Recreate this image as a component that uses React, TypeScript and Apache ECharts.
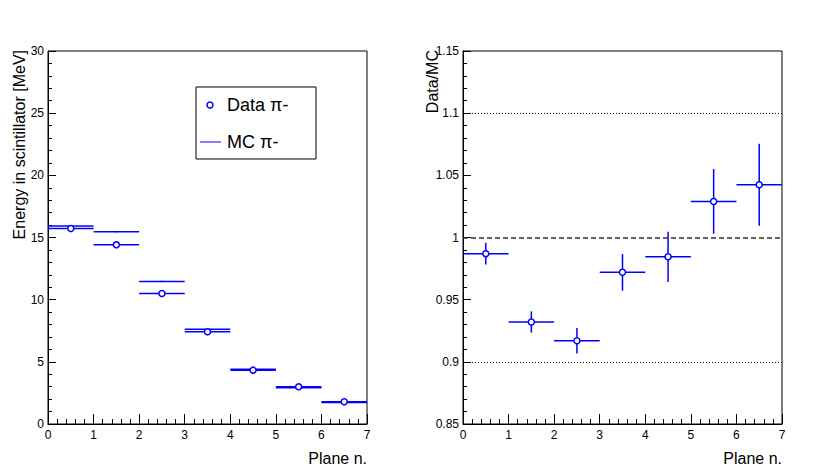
import React, { useEffect, useRef } from "react";
import * as echarts from "echarts";

const planeCenters = [0.5, 1.5, 2.5, 3.5, 4.5, 5.5, 6.5];
const binHalfWidth = [0.5, 0.5, 0.5, 0.5, 0.5, 0.5, 0.5];
const dataEnergy = [15.72, 14.41, 10.5, 7.42, 4.33, 2.99, 1.79];
const dataEnergyErr = [0.08, 0.08, 0.07, 0.06, 0.05, 0.04, 0.03];
const mcEnergy = [15.93, 15.47, 11.47, 7.63, 4.4, 2.91, 1.72];
const mcEnergyErr = [0.06, 0.06, 0.05, 0.04, 0.03, 0.02, 0.02];
const ratio = [0.987, 0.932, 0.917, 0.972, 0.9845, 1.029, 1.0424];
const ratioErr = [0.0087, 0.0086, 0.0103, 0.0148, 0.0202, 0.026, 0.033];
const refLines = [1.1, 1.0, 0.9];

const BLUE = "#0000ff";
const FONT = "Liberation Sans";

function errRender(withMarker: boolean, lw: number) {
  return (params: any, api: any) => {
    const x = api.value(0);
    const y = api.value(1);
    const ex = api.value(2);
    const ey = api.value(3);
    const p = api.coord([x, y]);
    const l = api.coord([x - ex, y]);
    const r = api.coord([x + ex, y]);
    const t = api.coord([x, y + ey]);
    const b = api.coord([x, y - ey]);
    const children: any[] = [
      { type: "line", shape: { x1: l[0], y1: l[1], x2: r[0], y2: r[1] }, style: { stroke: BLUE, lineWidth: lw } },
      { type: "line", shape: { x1: t[0], y1: t[1], x2: b[0], y2: b[1] }, style: { stroke: BLUE, lineWidth: lw } },
    ];
    if (withMarker) {
      children.push({ type: "circle", shape: { cx: p[0], cy: p[1], r: 3 }, style: { fill: "#ffffff", stroke: BLUE, lineWidth: 1.5 } });
    }
    return { type: "group", children };
  };
}

function xAxisCfg(gridIndex: number) {
  return {
    type: "value",
    gridIndex,
    min: 0,
    max: 7,
    interval: 1,
    axisLine: { lineStyle: { color: "#000", width: 1 } },
    axisTick: { inside: true, length: 10, lineStyle: { color: "#000" } },
    minorTick: { show: true, splitNumber: 5, length: 5, lineStyle: { color: "#000" } },
    splitLine: { show: false },
    axisLabel: { color: "#000", fontSize: 12, fontFamily: FONT, margin: 5 },
  };
}

export default function App() {
  const ref = useRef<HTMLDivElement>(null);
  useEffect(() => {
    if (!ref.current) return;
    const chart = echarts.init(ref.current, null, { renderer: "svg" });
    const dataE = planeCenters.map((c, i) => [c, dataEnergy[i], binHalfWidth[i], dataEnergyErr[i]]);
    const mcE = planeCenters.map((c, i) => [c, mcEnergy[i], binHalfWidth[i], mcEnergyErr[i]]);
    const rat = planeCenters.map((c, i) => [c, ratio[i], binHalfWidth[i], ratioErr[i]]);
    chart.setOption({
      animation: false,
      textStyle: { fontFamily: FONT },
      grid: [
        { left: 48, top: 51, width: 319, height: 373, show: true, borderColor: "#000", borderWidth: 1, backgroundColor: "transparent" },
        { left: 463, top: 51, width: 319, height: 373, show: true, borderColor: "#000", borderWidth: 1, backgroundColor: "transparent" },
      ],
      xAxis: [xAxisCfg(0), xAxisCfg(1)],
      yAxis: [
        {
          type: "value",
          gridIndex: 0,
          min: 0,
          max: 30,
          interval: 5,
          axisLine: { show: true, lineStyle: { color: "#000" } },
          axisTick: { inside: true, length: 8, lineStyle: { color: "#000" } },
          minorTick: { show: true, splitNumber: 5, length: 4, lineStyle: { color: "#000" } },
          splitLine: { show: false },
          axisLabel: { color: "#000", fontSize: 12, fontFamily: FONT, margin: 4 },
        },
        {
          type: "value",
          gridIndex: 1,
          min: 0.85,
          max: 1.15,
          interval: 0.05,
          axisLine: { show: true, lineStyle: { color: "#000" } },
          axisTick: { inside: true, length: 8, lineStyle: { color: "#000" } },
          minorTick: { show: true, splitNumber: 5, length: 4, lineStyle: { color: "#000" } },
          splitLine: { show: false },
          axisLabel: {
            color: "#000",
            fontSize: 12,
            fontFamily: FONT,
            margin: 4,
            formatter: (v: number) => String(+v.toFixed(2)),
          },
        },
      ],
      series: [
        {
          type: "custom",
          name: "MC π-",
          xAxisIndex: 0,
          yAxisIndex: 0,
          renderItem: errRender(false, 1.5),
          encode: { x: 0, y: 1 },
          data: mcE,
        },
        {
          type: "custom",
          name: "Data π-",
          xAxisIndex: 0,
          yAxisIndex: 0,
          renderItem: errRender(true, 1.5),
          encode: { x: 0, y: 1 },
          data: dataE,
        },
        {
          type: "custom",
          name: "Data/MC",
          xAxisIndex: 1,
          yAxisIndex: 1,
          renderItem: errRender(true, 1.5),
          encode: { x: 0, y: 1 },
          data: rat,
          markLine: {
            silent: true,
            symbol: "none",
            label: { show: false },
            data: refLines.map((v) => ({
              yAxis: v,
              lineStyle:
                v === 1
                  ? { type: [5, 3], color: "#333", width: 1.5 }
                  : { type: [1, 2], color: "#000", width: 1 },
            })),
          },
          z: 3,
        },
      ],
      graphic: [
        { type: "rect", shape: { x: 196, y: 87, width: 120, height: 72 }, style: { fill: "#fff", stroke: "#000", lineWidth: 1 }, z: 10 },
        { type: "circle", shape: { cx: 210, cy: 105, r: 3 }, style: { fill: "#fff", stroke: BLUE, lineWidth: 1.5 }, z: 11 },
        { type: "text", x: 227, y: 105, style: { text: "Data π-", fontSize: 18, fontFamily: FONT, fill: "#000", verticalAlign: "middle", align: "left" }, z: 11 },
        { type: "line", shape: { x1: 200, y1: 142, x2: 221, y2: 142 }, style: { stroke: BLUE, lineWidth: 1 }, z: 11 },
        { type: "text", x: 227, y: 142, style: { text: "MC π-", fontSize: 18, fontFamily: FONT, fill: "#000", verticalAlign: "middle", align: "left" }, z: 11 },
        { type: "text", x: 19, y: 50, rotation: Math.PI / 2, style: { text: "Energy in scintillator [MeV]", fontSize: 16, fontFamily: FONT, fill: "#000", align: "right", verticalAlign: "middle" } },
        { type: "text", x: 432, y: 50, rotation: Math.PI / 2, style: { text: "Data/MC", fontSize: 16, fontFamily: FONT, fill: "#000", align: "right", verticalAlign: "middle" } },
        { type: "text", x: 367, y: 458, style: { text: "Plane n.", fontSize: 16, fontFamily: FONT, fill: "#000", align: "right", verticalAlign: "middle" } },
        { type: "text", x: 782, y: 458, style: { text: "Plane n.", fontSize: 16, fontFamily: FONT, fill: "#000", align: "right", verticalAlign: "middle" } },
      ],
    });
    return () => chart.dispose();
  }, []);
  return <div ref={ref} style={{ position: "fixed", left: 0, top: 0, width: 830, height: 476, background: "#fff" }} />;
}
